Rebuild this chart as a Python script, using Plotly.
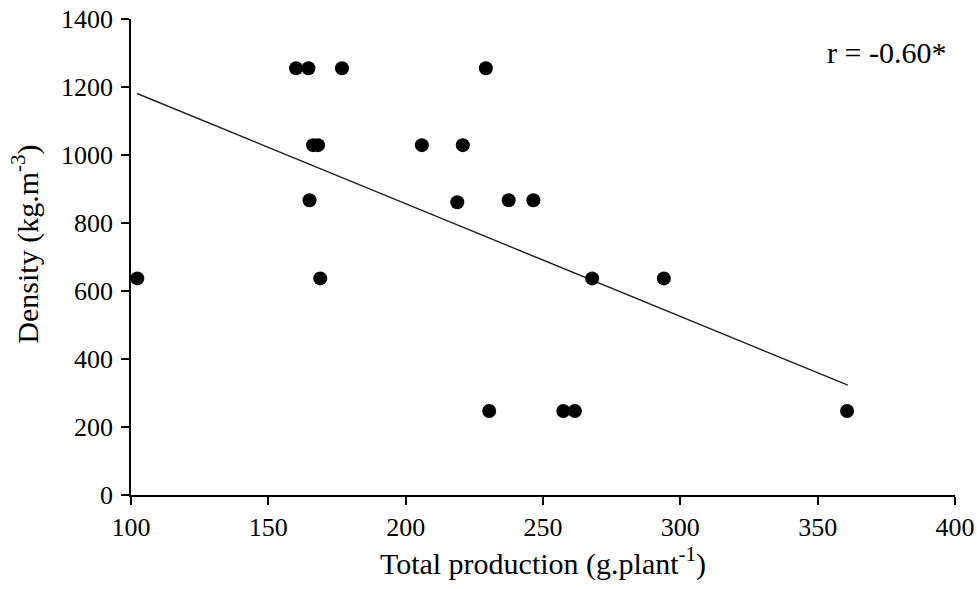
import plotly.graph_objects as go

# Data
production = [102.3, 160.1, 164.6, 176.8, 229.2, 166.3, 168.1, 205.9, 220.8,
              165.0, 218.8, 237.5, 246.5, 168.9, 230.4, 257.4, 261.6, 267.9,
              294.0, 360.7]
density = [637, 1255, 1255, 1255, 1255, 1029, 1029, 1029, 1029,
           867, 861, 867, 867, 637, 247, 247, 247, 637,
           637, 247]
trend_x = [102.2, 361.0]
trend_y = [1181, 323]
x_ticks = [100, 150, 200, 250, 300, 350, 400]
y_ticks = [0, 200, 400, 600, 800, 1000, 1200, 1400]

FONT = "Liberation Serif"

fig = go.Figure()
fig.add_trace(go.Scatter(x=trend_x, y=trend_y, mode="lines",
                         line=dict(color="#222222", width=1.5),
                         showlegend=False, hoverinfo="skip"))
fig.add_trace(go.Scatter(x=production, y=density, mode="markers",
                         marker=dict(color="black", size=14),
                         showlegend=False))

# correlation label
fig.add_annotation(x=0.991, y=0.93, xref="paper", yref="paper",
                   text="r = -0.60*", showarrow=False,
                   xanchor="right", yanchor="middle",
                   font=dict(family=FONT, size=30, color="black"))

# y-axis title as annotation for precise placement
fig.add_annotation(x=-0.128, y=0.527, xref="paper", yref="paper",
                   text="Density (kg.m<sup>-3</sup>)", showarrow=False,
                   textangle=-90, xanchor="center", yanchor="middle",
                   font=dict(family=FONT, size=30, color="black"))

axis_common = dict(showgrid=False, zeroline=False, showline=True,
                   linecolor="black", linewidth=1.5, ticks="outside",
                   ticklen=8, tickwidth=1.5, tickcolor="black",
                   tickfont=dict(family=FONT, size=26, color="black"))

fig.update_xaxes(range=[100, 400], tickvals=x_ticks,
                 ticktext=[str(v) for v in x_ticks],
                 title=dict(text="Total production (g.plant<sup>-1</sup>)",
                            font=dict(family=FONT, size=30, color="black"),
                            standoff=12),
                 **axis_common)
fig.update_yaxes(range=[0, 1400], tickvals=y_ticks,
                 ticktext=[str(v) for v in y_ticks],
                 ticklabelstandoff=3,
                 **axis_common)

fig.update_layout(width=977, height=589,
                  margin=dict(l=131, r=22, t=19, b=94, autoexpand=False),
                  plot_bgcolor="white", paper_bgcolor="white",
                  font=dict(family=FONT, color="black"))

fig.write_html("out.html", config={"displayModeBar": False},
               post_script="document.body.style.margin='0';")
